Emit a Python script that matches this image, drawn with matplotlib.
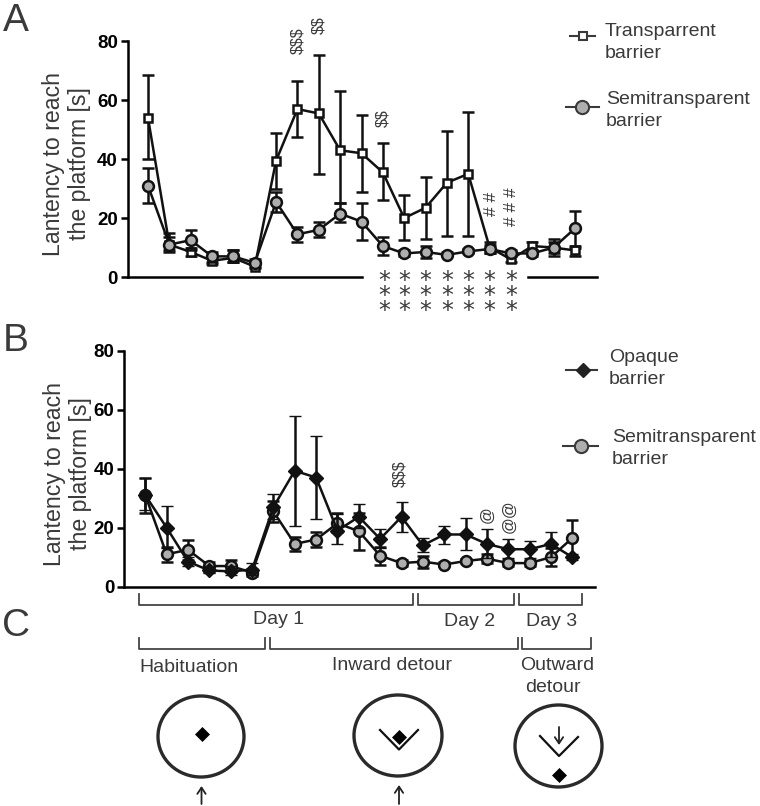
import matplotlib
matplotlib.use('Agg')
import numpy as np
import matplotlib.pyplot as plt
from matplotlib.patches import Ellipse

plt.rcParams['font.family'] = ['Liberation Sans', 'DejaVu Sans']

W, H = 760, 806
DARK = '#3a3a3a'
GRAY = '#aeaeae'

trials = np.arange(1, 22)

transp_mean = [54, 11, 8.5, 5.5, 6.5, 3.5, 39.5, 57, 55.5, 43, 42, 35.5, 20, 23.5, 32, 35, 10, 6, 10.5, 10, 9]
transp_low = [40, 9, 7, 4.5, 5, 3, 30, 47.5, 35, 25, 29, 26, 12.5, 13, 14, 14, 8, 5, 9, 8, 7]
transp_high = [68.5, 15, 10, 7, 9, 5.5, 49, 66.5, 75.5, 63, 55, 45.5, 28, 34, 49.5, 56, 12, 7, 12, 12, 10]

semi_mean = [31, 11, 12.5, 7, 7, 4.8, 25.5, 14.5, 16, 21.5, 18.8, 10.5, 8, 8.5, 7.5, 8.7, 9.5, 8, 8, 10, 16.5]
semi_low = [25, 8.5, 9, 5, 5, 3.5, 22, 12, 13.5, 18.5, 12.5, 7.5, 7, 6.5, 7, 8, 8, 7, 7, 7, 10.5]
semi_high = [37, 13.5, 16, 8.5, 9, 6, 29, 17, 18.5, 25, 25, 13.5, 9, 10.5, 8.5, 9.5, 11, 9, 9, 13, 22.5]

opaque_mean = [31, 20, 8.5, 5.5, 5.2, 5.8, 27, 39.3, 37, 19, 23.7, 16.2, 23.7, 14, 17.7, 17.7, 14.5, 12.7, 12.7, 14.5, 10]
opaque_low = [26, 13, 7, 4.5, 4, 4, 23, 20.5, 23, 14.5, 19.8, 13.2, 18.5, 11.9, 14.6, 12.4, 9.6, 9.6, 9.6, 10, 9]
opaque_high = [37, 27.5, 10, 7, 7, 8, 31.5, 58, 51, 24.5, 27.9, 19.4, 28.8, 16.4, 20.7, 23.3, 19.7, 16.2, 15.4, 18.5, 11]

yticks = [0, 20, 40, 60, 80]
ylabel_text = 'Lantency to reach\nthe platform [s]'

star_trials = [12, 13, 14, 15, 16, 17, 18]

fig = plt.figure(figsize=(W / 100, H / 100), dpi=100)


def px_axes(left, top, right, bottom):
    return fig.add_axes([left / W, 1 - bottom / H, (right - left) / W, (bottom - top) / H])


def draw_series(ax, mean, low, high, **kw):
    mean = np.array(mean)
    yerr = [mean - np.array(low), np.array(high) - mean]
    ax.errorbar(trials, mean, yerr=yerr, color='#111111', lw=1.8, elinewidth=1.8,
                capsize=4.2, capthick=1.8, clip_on=False, **kw)


def setup_axes(ax, x1_px, x21_px, left, right):
    step = (x21_px - x1_px) / 20
    ax.set_xlim(1 - (x1_px - left) / step, 21 + (right - x21_px) / step)
    ax.set_ylim(0, 80)
    ax.set_yticks(yticks)
    ax.set_xticks([])
    ax.spines['top'].set_visible(False)
    ax.spines['right'].set_visible(False)
    ax.spines['left'].set_linewidth(1.8)
    ax.spines['bottom'].set_linewidth(1.8)
    ax.tick_params(axis='y', length=5, width=1.8, pad=2, labelsize=13.5)
    for lab in ax.get_yticklabels():
        lab.set_fontweight('bold')
    ax.patch.set_alpha(0)


# panel A
ax1 = px_axes(127.5, 41.3, 597, 277)
setup_axes(ax1, 148, 575, 127.5, 597)
draw_series(ax1, transp_mean, transp_low, transp_high, marker='s', ms=5.8, mew=1.8,
            mfc='white', mec='#111111', zorder=3)
draw_series(ax1, semi_mean, semi_low, semi_high, marker='o', ms=7.8, mew=1.8,
            mfc=GRAY, mec='#111111', zorder=4)
# axis line is broken under the stars
x0, x1 = ax1.get_xlim()
ax1.spines['bottom'].set_bounds(x0, x0 + (362 - 127.5) / 21.35)
ax1.axhline(0, xmin=(528 - 127.5) / 469.5, xmax=1, color='k', lw=1.8, clip_on=False)
ax1.set_ylabel(ylabel_text, fontsize=16.7, color=DARK, linespacing=1.15)
ax1.yaxis.set_label_coords((91 - 127.5) / 469.5, (277 - 164) / 235.7)

# panel B
ax2 = px_axes(124.3, 350.7, 595, 586.7)
setup_axes(ax2, 145.3, 572.3, 124.3, 595)
draw_series(ax2, semi_mean, semi_low, semi_high, marker='o', ms=7.8, mew=1.8,
            mfc=GRAY, mec='#111111', zorder=3)
draw_series(ax2, opaque_mean, opaque_low, opaque_high, marker='D', ms=6.8, mew=1,
            mfc='#111111', mec='#111111', zorder=4)
ax2.set_ylabel(ylabel_text, fontsize=16.7, color=DARK, linespacing=1.15)
ax2.yaxis.set_label_coords((92 - 124.3) / 470.7, (586.7 - 473.5) / 236)

# overlay in pixel coordinates for labels, brackets and the schematics
ov = fig.add_axes([0, 0, 1, 1], zorder=10)
ov.set_xlim(0, W)
ov.set_ylim(H, 0)
ov.axis('off')
ov.patch.set_alpha(0)

for letter, x, y in [('A', 3, 31), ('B', 3, 351), ('C', 2, 636)]:
    ov.text(x, y, letter, fontsize=28, color=DARK, va='baseline', ha='left')


def legend_text(x, y1, y2, word1, word2):
    ov.text(x, y1, word1, fontsize=14, color=DARK, va='center', ha='left')
    ov.text(x, y2, word2, fontsize=14, color=DARK, va='center', ha='left')


ov.plot([570, 595], [36, 36], color=DARK, lw=1.5)
ov.plot([583], [36], marker='s', ms=6.2, mew=1.5, mfc='white', mec=DARK)
legend_text(605, 32, 54, 'Transparrent', 'barrier')
ov.plot([566, 599], [107, 107], color=DARK, lw=1.5)
ov.plot([582], [107], marker='o', ms=9.5, mew=1.5, mfc=GRAY, mec=DARK)
legend_text(606, 100, 122, 'Semitransparent', 'barrier')
ov.plot([566, 597], [370, 370], color=DARK, lw=1.5)
ov.plot([583], [370], marker='D', ms=7.5, mew=1, mfc='#222222', mec='#222222')
legend_text(609, 357, 380, 'Opaque', 'barrier')
ov.plot([563, 598], [446, 446], color=DARK, lw=1.5)
ov.plot([581], [446], marker='o', ms=9.5, mew=1.5, mfc=GRAY, mec=DARK)
legend_text(612, 437, 459, 'Semitransparent', 'barrier')

# significance marks, rotated like in the figure
for x, y, s in [(298, 41, '$$$'), (319, 25, '$$'), (383, 118, '$$'), (400, 474, '$$$')]:
    ov.text(x, y, s.replace('$', r'\$'), rotation=90, fontsize=11.5, color=DARK, ha='center', va='center')
for x, y, s in [(491, 204, '# #'), (512, 207, '# # #')]:
    ov.text(x, y, s, rotation=90, fontsize=12.5, color=DARK, ha='center', va='center')
for x, y, s in [(487, 515, '@'), (509, 516, '@@')]:
    ov.text(x, y, s, rotation=90, fontsize=12, color=DARK, ha='center', va='center')

for t in star_trials:
    sx = 148 + (t - 1) * 21.35 + 1.5 * (t == 12)
    ov.text(sx, 318, '*\n*\n*', fontsize=17, family='DejaVu Sans', color=DARK, ha='center', va='baseline',
            linespacing=0.52, multialignment='center')


def bracket(x1, x2, top, bottom):
    ov.plot([x1, x1, x2, x2], [top, bottom, bottom, top], color='#444444', lw=1.3)


for x1, x2 in [(138.7, 412.7), (418, 514), (518.7, 582)]:
    bracket(x1, x2, 594, 605)
for x1, x2 in [(139, 265), (270, 518), (522, 591)]:
    bracket(x1, x2, 638, 649)

for x, y, s in [(279, 620, 'Day 1'), (470, 622, 'Day 2'), (552, 621, 'Day 3'),
                (189, 668, 'Habituation'), (392, 666, 'Inward detour'),
                (557, 665, 'Outward'), (553, 688, 'detour')]:
    ov.text(x, y, s, fontsize=14, color=DARK, ha='center', va='center')

# pool schematics
for cx, cy, w, h in [(201, 736.5, 86, 81), (398, 735.5, 88, 81), (558.5, 746, 87, 82)]:
    ov.add_patch(Ellipse((cx, cy), w, h, fill=False, ec='#2a2a2a', lw=2.4))
for x, y in [(202.4, 734), (399, 736.7), (559, 775)]:
    ov.plot([x], [y], marker='D', ms=6.8, mfc='k', mec='k', mew=0.5)
ov.plot([380, 399, 418], [730, 749.5, 730], color='#111111', lw=1.6)
ov.plot([540, 559, 578], [736, 756, 737], color='#111111', lw=1.6)


def arrow(x, y_tail, y_head):
    ov.annotate('', xy=(x, y_head), xytext=(x, y_tail),
                arrowprops=dict(arrowstyle='->,head_length=0.45,head_width=0.3', color='#222222', lw=1.3,
                                shrinkA=0, shrinkB=0))


arrow(201.5, 804, 786)
arrow(399, 804, 785)
arrow(559, 727, 745)

plt.savefig('out.png', dpi=100)
